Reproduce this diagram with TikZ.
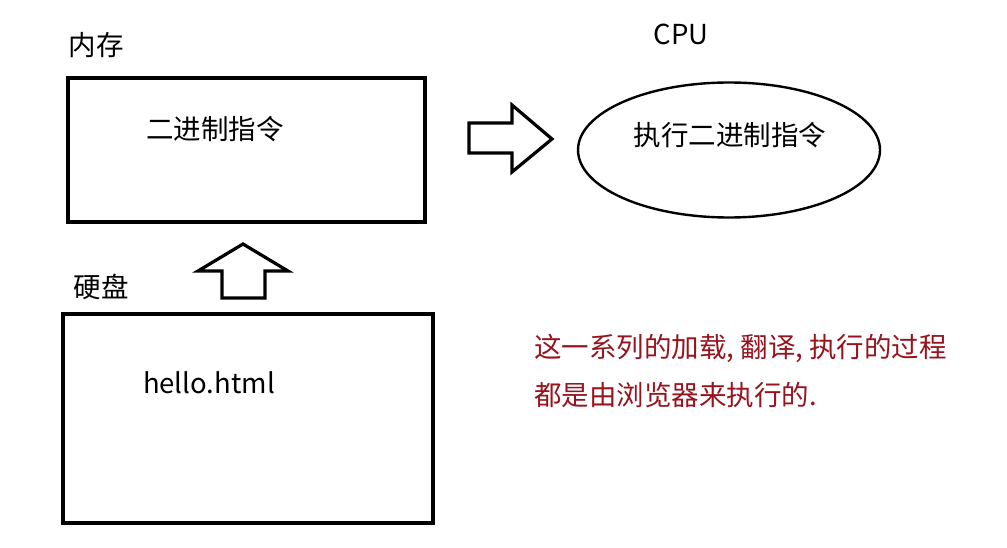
\documentclass[tikz,border=0pt]{standalone}
\usepackage{fontspec}
\setmainfont{Noto Sans CJK SC}
\usetikzlibrary{shapes.geometric}
\definecolor{note}{RGB}{150,20,30}
\begin{document}
\begin{tikzpicture}[x=1pt,y=-1pt,
  lbl/.style={font=\fontsize{27.5}{32}\selectfont, inner sep=0pt},
  box/.style={draw, line width=3.4pt},
  bigarrow/.style={draw, line width=3.2pt, line join=miter}]
\useasboundingbox (0,0) rectangle (1007,548);
% memory
\node[lbl] (memlbl) at (96,45) {内存};
\draw[box] (68,78) rectangle (425,222);
\node[lbl] (mem) at (215,129) {二进制指令};
% disk
\node[lbl] (disklbl) at (101,287) {硬盘};
\draw[box] (63,314) rectangle (433,523);
\node[lbl] (disk) at (209,383) {hello.html};
% cpu
\node[lbl] (cpulbl) at (681,34) {CPU};
\node[draw, line width=2.4pt, ellipse, minimum width=302pt, minimum height=135pt] (cpu) at (729,150) {};
\node[lbl] (cputxt) at (730,135) {执行二进制指令};
% arrows
\draw[bigarrow] (469,123) -- (512,123) -- (512,105) -- (552,139) -- (512,172) -- (512,153) -- (469,153) -- cycle;
\draw[bigarrow] (222,298) -- (222,271) -- (198,271) -- (243,244) -- (288,271) -- (265,271) -- (265,298) -- cycle;
% note
\node[lbl, text=note, anchor=west] (note1) at (534,348) {这一系列的加载, 翻译, 执行的过程};
\node[lbl, text=note, anchor=west] (note2) at (534,395) {都是由浏览器来执行的.};
\end{tikzpicture}
\end{document}
